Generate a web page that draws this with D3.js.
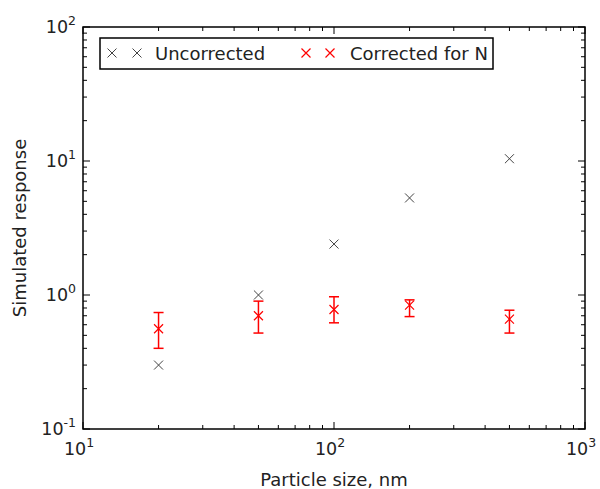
<!DOCTYPE html>
<html><head><meta charset="utf-8">
<script src="https://cdn.jsdelivr.net/npm/d3@7"></script>
<style>body{margin:0;background:#fff;} text{font-family:"DejaVu Sans",sans-serif;}</style>
</head><body><svg id="c" width="600" height="489"></svg>
<script>
const sizes = [20, 50, 100, 200, 500];
const uncorrected = [0.30, 1.0, 2.4, 5.3, 10.4];
const corrected = [0.56, 0.70, 0.78, 0.84, 0.66];
const corrLow = [0.40, 0.52, 0.62, 0.69, 0.52];
const corrHigh = [0.74, 0.90, 0.97, 0.92, 0.77];
const xTickExps = [1, 2, 3];
const yTickExps = [-1, 0, 1, 2];
const seriesNames = ["Uncorrected", "Corrected for N"];

const svg = d3.select("#c");
const L = 83, R = 585, T = 27, B = 429;
const x = d3.scaleLog().domain([10, 1000]).range([L, R]);
const y = d3.scaleLog().domain([0.1, 100]).range([B, T]);

function minors(lo, hi) {
  const out = [];
  for (let e = lo; e < hi; e++) for (let k = 2; k <= 9; k++) out.push(k * Math.pow(10, e));
  return out;
}
const g = svg.append("g");
const xMin = minors(1, 3), yMin = minors(-1, 2);
const tk = (sel, data, fn) => sel.selectAll(null).data(data).enter().append("line").attr("stroke", "#000").attr("stroke-width", 1).each(fn);
const xMaj = xTickExps.map(e => Math.pow(10, e)), yMaj = yTickExps.map(e => Math.pow(10, e));
[[xMaj, 7], [xMin, 4]].forEach(([d, len]) => {
  tk(g, d, function(v){ d3.select(this).attr("x1", x(v)).attr("x2", x(v)).attr("y1", B).attr("y2", B - len); });
  tk(g, d, function(v){ d3.select(this).attr("x1", x(v)).attr("x2", x(v)).attr("y1", T).attr("y2", T + len); });
});
[[yMaj, 7], [yMin, 4]].forEach(([d, len]) => {
  tk(g, d, function(v){ d3.select(this).attr("y1", y(v)).attr("y2", y(v)).attr("x1", L).attr("x2", L + len); });
  tk(g, d, function(v){ d3.select(this).attr("y1", y(v)).attr("y2", y(v)).attr("x1", R).attr("x2", R - len); });
});
g.append("rect").attr("x", L).attr("y", T).attr("width", R - L).attr("height", B - T)
  .attr("fill", "none").attr("stroke", "#000").attr("stroke-width", 1.5);

function powLabel(sel, e, px, py, anchor) {
  const t = sel.append("text").attr("x", px).attr("y", py).attr("font-size", 17.5).attr("fill", "#222").attr("text-anchor", anchor);
  t.append("tspan").text("10");
  t.append("tspan").attr("dy", -8).attr("font-size", 12.5).text(e);
}
xTickExps.forEach(e => powLabel(svg, e, x(Math.pow(10, e)) - 4, B + 26, "middle"));
yTickExps.forEach(e => powLabel(svg, e, L - 7, y(Math.pow(10, e)) + 6, "end"));

svg.append("text").attr("x", 334).attr("y", 486).attr("text-anchor", "middle").attr("font-size", 18).attr("fill", "#222").text("Particle size, nm");
svg.append("text").attr("transform", `translate(26,${(T + B) / 2}) rotate(-90)`).attr("text-anchor", "middle").attr("font-size", 18).attr("fill", "#222").text("Simulated response");

function cross(sel, cx, cy, r, color, w) {
  sel.append("path").attr("d", `M${cx - r},${cy - r}L${cx + r},${cy + r}M${cx - r},${cy + r}L${cx + r},${cy - r}`)
    .attr("stroke", color).attr("stroke-width", w).attr("fill", "none");
}
const grey = "#444", red = "#ff0000";
sizes.forEach((s, i) => cross(svg, x(s), y(uncorrected[i]), 4.5, grey, 1));
sizes.forEach((s, i) => {
  const cx = x(s);
  svg.append("line").attr("x1", cx).attr("x2", cx).attr("y1", y(corrLow[i])).attr("y2", y(corrHigh[i])).attr("stroke", red).attr("stroke-width", 1.5);
  [corrLow[i], corrHigh[i]].forEach(v => svg.append("line").attr("x1", cx - 5).attr("x2", cx + 5).attr("y1", y(v)).attr("y2", y(v)).attr("stroke", red).attr("stroke-width", 1.5));
  cross(svg, cx, y(corrected[i]), 4.5, red, 1.2);
});

const lg = svg.append("g");
lg.append("rect").attr("x", 100).attr("y", 38).attr("width", 393).attr("height", 31).attr("fill", "#fff").attr("stroke", "#000").attr("stroke-width", 1.5);
[[112, 137, 155, grey, 1, seriesNames[0]], [306, 330, 350, red, 1.2, seriesNames[1]]].forEach(([a, b, tx, col, w, name]) => {
  cross(lg, a, 53, 4.5, col, w);
  cross(lg, b, 53, 4.5, col, w);
  lg.append("text").attr("x", tx).attr("y", 59.5).attr("font-size", 18).attr("fill", "#222").text(name);
});
</script></body></html>
